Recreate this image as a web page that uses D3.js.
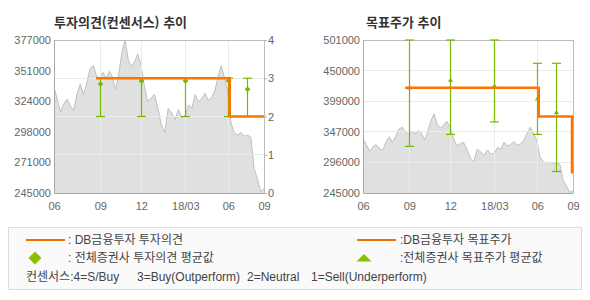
<!DOCTYPE html>
<html lang="ko">
<head>
<meta charset="utf-8">
<title>투자의견 / 목표주가 추이</title>
<script src="https://d3js.org/d3.v7.min.js"></script>
<style>
  body { margin: 0; background: #fff; }
  svg { display: block; }
  .axis text { font-family: 'Liberation Sans', Arial, sans-serif; font-size: 11px; fill: #666; }
  .title { font-family: 'Noto Sans CJK KR', sans-serif; font-size: 13px; font-weight: bold; fill: #333; }
  .legend-text { font-family: 'Liberation Sans', 'Noto Sans CJK KR', sans-serif; font-size: 12px; fill: #444; }
</style>
</head>
<body>
<div id="chart"></div>
<script>
// 주가 (주간)
const priceDates = [
  '2017-05-25','2017-06-01','2017-06-08','2017-06-15','2017-06-22','2017-06-29','2017-07-06','2017-07-13','2017-07-20','2017-07-27',
  '2017-08-03','2017-08-10','2017-08-17','2017-08-24','2017-08-31','2017-09-07','2017-09-14','2017-09-21','2017-09-28','2017-10-05',
  '2017-10-12','2017-10-19','2017-10-26','2017-11-02','2017-11-09','2017-11-16','2017-11-23','2017-11-30','2017-12-07','2017-12-14',
  '2017-12-21','2017-12-28','2018-01-04','2018-01-11','2018-01-18','2018-01-25','2018-02-01','2018-02-08','2018-02-15','2018-02-22',
  '2018-03-01','2018-03-08','2018-03-15','2018-03-22','2018-03-29','2018-04-05','2018-04-12','2018-04-19','2018-04-26','2018-05-03',
  '2018-05-10','2018-05-17','2018-05-24','2018-05-31','2018-06-07','2018-06-14','2018-06-21','2018-06-28','2018-07-05','2018-07-12',
  '2018-07-19','2018-07-26','2018-08-02','2018-08-09','2018-08-16'
];
const priceValues = [
  336000, 326000, 315000, 322000, 326000, 320000, 316000, 330000, 339000, 330000,
  340000, 352000, 355000, 346000, 344000, 349000, 344000, 350000, 345000, 334000,
  348000, 366000, 377000, 360000, 354000, 358000, 365000, 356000, 338000, 324000,
  327000, 330000, 318000, 304000, 297000, 318000, 314000, 308000, 317000, 310000,
  312000, 321000, 318000, 330000, 324000, 326000, 331000, 325000, 327000, 333000,
  345000, 355000, 344000, 333000, 305000, 297000, 295000, 297000, 294000, 295000,
  293000, 266000, 257000, 246000, 249000
];

// DB금융투자 투자의견 / 목표주가
const opinionDates = ['2017-08-23', '2018-06-04'];
const opinionValues = [3, 2];
const targetDates = ['2017-08-23', '2018-06-04', '2018-08-14'];
const targetValues = [421000, 373000, 280000];

// 전체증권사 평균 (최저~최고)
const consensusDates = ['2017-09-01', '2017-12-01', '2018-03-01', '2018-06-01', '2018-07-10'];
const opinionAvg = [2.85, 2.93, 2.93, 2.93, 2.71];
const opinionLow = [2, 2, 2, 2, 2];
const opinionHigh = [3, 3, 3, 3, 3];
const targetAvg = [421000, 434000, 424000, 403000, 380000];
const targetLow = [323000, 343000, 364000, 343000, 281000];
const targetHigh = [501000, 501000, 501000, 462000, 462000];

// 축 눈금
const xTickDates = ['2017-05-25', '2017-09-01', '2017-12-01', '2018-03-01', '2018-06-01', '2018-08-16'];
const xTickLabels = ['06', '09', '12', '18/03', '06', '09'];
const opinionTicks = [0, 1, 2, 3, 4];
const leftPriceTicks = [245000, 271400, 297800, 324200, 350600, 377000];
const leftPriceLabels = ['245000', '271000', '298000', '324000', '351000', '377000'];
const rightPriceTicks = [245000, 296200, 347400, 398600, 449800, 501000];
const rightPriceLabels = ['245000', '296000', '347000', '399000', '450000', '501000'];

const config = {
  width: 210,
  height: 153,
  top: 40,
  leftX: 54,
  rightX: 363,
  // trading-day axis: where each tick date sits along the plot width
  tickShare: [0, 0.2205, 0.4157, 0.6252, 0.83, 1],
  orange: '#ff7400',
  green: '#77b800',
  grid: '#ebebeb'
};

const parseDate = d3.timeParse('%Y-%m-%d');
const prices = priceDates.map((d, i) => ({ date: parseDate(d), value: priceValues[i] }));

const svg = d3.select('#chart').append('svg')
  .attr('width', 590)
  .attr('height', 300);

const xScale = d3.scaleTime()
  .domain(xTickDates.map(parseDate))
  .range(config.tickShare.map(s => s * config.width));

/**
 * Grey price area + grid + frame for one panel.
 */
function drawBase (g, yScale, gridValues) {
  const area = d3.area()
    .x(d => xScale(d.date))
    .y0(config.height)
    .y1(d => yScale(d.value));
  const line = d3.line()
    .x(d => xScale(d.date))
    .y(d => yScale(d.value));

  g.append('path').datum(prices)
    .attr('d', area)
    .attr('fill', '#e0e0e0');
  g.append('path').datum(prices)
    .attr('d', line)
    .attr('fill', 'none')
    .attr('stroke', '#bfbfbf')
    .attr('stroke-width', 1);

  const grid = g.append('g').attr('shape-rendering', 'crispEdges');
  grid.selectAll('.hgrid')
    .data(gridValues)
    .enter().append('line')
    .attr('x1', 0).attr('x2', config.width)
    .attr('y1', d => yScale(d)).attr('y2', d => yScale(d))
    .attr('stroke', config.grid);
  grid.selectAll('.vgrid')
    .data(xTickDates.slice(1, -1).map(parseDate))
    .enter().append('line')
    .attr('x1', d => xScale(d)).attr('x2', d => xScale(d))
    .attr('y1', 0).attr('y2', config.height)
    .attr('stroke', config.grid);

  // top / right border
  g.append('path')
    .attr('d', `M0,0H${config.width}V${config.height}`)
    .attr('fill', 'none')
    .attr('stroke', '#bdbdbd')
    .attr('shape-rendering', 'crispEdges');
}

function drawXAxis (g) {
  const axis = g.append('g')
    .attr('class', 'axis')
    .attr('transform', `translate(0, ${config.height})`)
    .call(d3.axisBottom(xScale)
      .tickValues(xTickDates.map(parseDate))
      .tickFormat((d, i) => xTickLabels[i])
      .tickSize(0)
      .tickPadding(9));
  axis.select('.domain').attr('stroke', '#a8a8a8');
  axis.attr('font-size', null).attr('font-family', null);
}

function drawYAxis (g, yScale, values, labels) {
  const axis = g.append('g')
    .attr('class', 'axis')
    .call(d3.axisLeft(yScale)
      .tickValues(values)
      .tickFormat((d, i) => labels[i])
      .tickSize(0)
      .tickPadding(3));
  axis.select('.domain').attr('stroke', '#a8a8a8');
  axis.attr('font-size', null).attr('font-family', null);
}

/**
 * Consensus range bars (low~high) with the mean marker.
 */
function drawRanges (g, yScale, low, high, avg, symbol) {
  const bars = g.append('g').attr('stroke', config.green).attr('stroke-width', 1.2);
  const data = consensusDates.map((d, i) => ({ date: parseDate(d), low: low[i], high: high[i], avg: avg[i] }));
  const cap = 4.5;

  data.forEach(d => {
    const x = Math.round(xScale(d.date)) + 0.5;
    bars.append('line')
      .attr('x1', x).attr('x2', x)
      .attr('y1', yScale(d.high)).attr('y2', yScale(d.low));
    [d.low, d.high].forEach(v => {
      bars.append('line')
        .attr('x1', x - cap).attr('x2', x + cap)
        .attr('y1', yScale(v)).attr('y2', yScale(v));
    });
    g.append('path')
      .attr('d', symbol)
      .attr('transform', `translate(${x}, ${yScale(d.avg)})${symbol === markerDiamond ? ' rotate(45)' : ''}`)
      .attr('fill', config.green);
  });
}

function drawStep (g, yScale, dates, values) {
  const data = dates.map((d, i) => ({ date: parseDate(d), value: values[i] }));
  data.push({ date: xScale.domain()[xScale.domain().length - 1], value: values[values.length - 1] });
  g.append('path').datum(data)
    .attr('d', d3.line().curve(d3.curveStepAfter)
      .x(d => xScale(d.date))
      .y(d => yScale(d.value)))
    .attr('fill', 'none')
    .attr('stroke', config.orange)
    .attr('stroke-width', 2.6);
}

const markerDiamond = d3.symbol(d3.symbolSquare, 16)();
const markerTriangle = 'M0,-2.2L2.6,1.6H-2.6Z';

// ---- 투자의견(컨센서스) 추이 ----
const left = svg.append('g').attr('transform', `translate(${config.leftX}, ${config.top})`);
const yPriceLeft = d3.scaleLinear().domain([245000, 377000]).range([config.height, 0]);
const yOpinion = d3.scaleLinear().domain([0, 4]).range([config.height, 0]);

drawBase(left, yPriceLeft, opinionTicks.slice(1, -1).map(v => yPriceLeft.invert(yOpinion(v))));
drawRanges(left, yOpinion, opinionLow, opinionHigh, opinionAvg, markerDiamond);
drawStep(left, yOpinion, opinionDates, opinionValues);
drawXAxis(left);
drawYAxis(left, yPriceLeft, leftPriceTicks, leftPriceLabels);

const rightAxis = left.append('g')
  .attr('class', 'axis')
  .attr('transform', `translate(${config.width}, 0)`)
  .call(d3.axisRight(yOpinion)
    .tickValues(opinionTicks)
    .tickFormat(d3.format('d'))
    .tickSize(3)
    .tickPadding(1));
rightAxis.select('.domain').remove();
rightAxis.selectAll('line').attr('stroke', '#b0b0b0');
rightAxis.attr('font-size', null).attr('font-family', null);

left.append('text')
  .attr('class', 'title')
  .attr('x', 0).attr('y', -19)
  .attr('dominant-baseline', 'central')
  .text('투자의견(컨센서스) 추이');

// ---- 목표주가 추이 ----
const right = svg.append('g').attr('transform', `translate(${config.rightX}, ${config.top})`);
const yTarget = d3.scaleLinear().domain([245000, 501000]).range([config.height, 0]);

drawBase(right, yTarget, rightPriceTicks.slice(1, -1));
drawRanges(right, yTarget, targetLow, targetHigh, targetAvg, markerTriangle);
drawStep(right, yTarget, targetDates, targetValues);
drawXAxis(right);
drawYAxis(right, yTarget, rightPriceTicks, rightPriceLabels);

right.append('text')
  .attr('class', 'title')
  .attr('x', 3).attr('y', -19)
  .attr('dominant-baseline', 'central')
  .text('목표주가 추이');

// ---- 범례 ----
const legend = svg.append('g');
legend.append('rect')
  .attr('x', 8.5).attr('y', 227.5)
  .attr('width', 573).attr('height', 62)
  .attr('fill', '#fafafa')
  .attr('stroke', '#dcdcdc');

[[26, 65], [357, 396]].forEach(([x1, x2]) => {
  legend.append('line')
    .attr('x1', x1).attr('x2', x2)
    .attr('y1', 240).attr('y2', 240)
    .attr('stroke', '#f07000')
    .attr('stroke-width', 2.2);
});
legend.append('path')
  .attr('d', d3.symbol(d3.symbolSquare, 84)())
  .attr('transform', 'translate(35, 258) rotate(45)')
  .attr('fill', '#86c000');
legend.append('path')
  .attr('d', 'M0,-4L7.5,3.5H-7.5Z')
  .attr('transform', 'translate(364, 258)')
  .attr('fill', '#86c000');

const legendItems = [
  { x: 68, y: 240, text: ': DB금융투자 투자의견' },
  { x: 68, y: 258, text: ': 전체증권사 투자의견 평균값' },
  { x: 400, y: 240, text: ':DB금융투자 목표주가' },
  { x: 400, y: 258, text: ':전체증권사 목표주가 평균값' },
  { x: 26, y: 277, text: '컨센서스:4=S/Buy' },
  { x: 137, y: 277, text: '3=Buy(Outperform)' },
  { x: 247, y: 277, text: '2=Neutral' },
  { x: 311, y: 277, text: '1=Sell(Underperform)' }
];
legend.selectAll('.legend-text')
  .data(legendItems)
  .enter().append('text')
  .attr('class', 'legend-text')
  .attr('x', d => d.x)
  .attr('y', d => d.y)
  .attr('dominant-baseline', 'central')
  .text(d => d.text);
</script>
</body>
</html>
